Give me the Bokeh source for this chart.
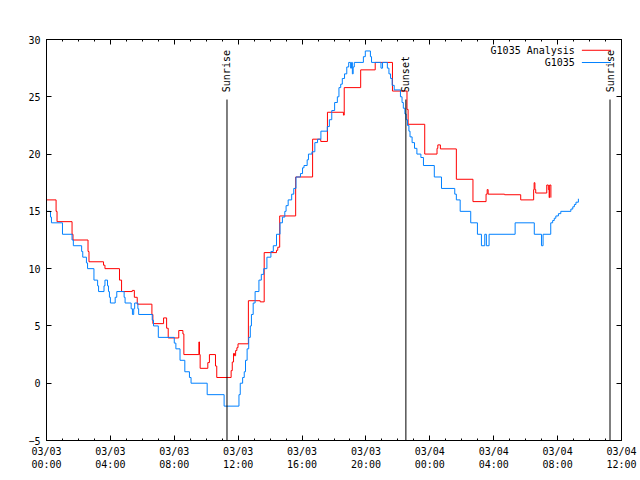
import math
from bokeh.plotting import figure
from bokeh.models import Range1d, FixedTicker, LinearAxis, Label, ColumnDataSource
from bokeh.core.properties import value
from bokeh.embed import file_html
from bokeh.resources import INLINE

# ---- data (hours since 03/03 00:00 UTC, degrees F) ----
obs_hours = [0.0, 0.25, 0.31, 1.0, 1.6, 1.68, 2.2, 2.27, 2.5, 2.57, 2.97, 3.2, 3.26, 3.6, 3.66, 3.82,
             3.88, 3.94, 4.0, 4.3, 4.4, 4.86, 4.92, 5.3, 5.38, 5.46, 5.52, 5.72, 5.77, 6.62, 6.7, 7.0,
             8.0, 8.1, 8.36, 8.66, 8.95, 9.05, 10.06, 11.12, 12.05, 12.13, 12.28, 12.38, 12.46, 12.56,
             12.66, 12.76, 12.83, 12.94, 13.06, 13.3, 13.45, 13.6, 13.8, 14.05, 14.2, 14.4, 14.62,
             14.77, 14.92, 15.0, 15.13, 15.35, 15.48, 15.62, 15.9, 16.03, 16.12, 16.32, 16.4, 16.62,
             16.8, 16.97, 17.18, 17.58, 17.71, 17.86, 18.04, 18.21, 18.31, 18.42, 18.52, 18.66, 18.8,
             18.92, 19.04, 19.1, 19.15, 19.2, 19.27, 19.84, 19.96, 20.28, 20.35, 20.94, 21.04, 21.34,
             21.44, 21.54, 21.64, 21.77, 22.16, 22.26, 22.34, 22.44, 22.52, 22.6, 22.69, 22.76, 22.89,
             23.04, 23.19, 23.44, 23.6, 24.28, 24.73, 25.56, 25.66, 25.9, 26.56, 26.98, 27.23, 27.44,
             27.54, 27.71, 29.34, 30.54, 30.99, 31.09, 31.57, 31.69, 31.79, 31.89, 32.05, 32.2, 32.83,
             32.95, 33.05, 33.15, 33.3]
obs_temp = [15, 14.5, 14, 13, 12.5, 12, 11.5, 11, 10.5, 10, 9, 8.5, 8, 8.5, 9, 8.5,
            8, 7.5, 7, 7.5, 8, 7.5, 7, 6.5, 6, 6.5, 7, 6.5, 6, 5.5, 5, 4,
            3.5, 3, 2, 1, 0.5, 0, -1, -2, -1, 0, 0.5, 1, 2, 3,
            4, 5, 6, 7, 8, 9, 9.5, 10, 11, 11.5, 12, 13, 14,
            14.5, 15, 15.5, 16, 16.5, 17, 18, 18.3, 18.8, 19, 19.5, 20, 20.2,
            21, 21.3, 22, 22.4, 23, 23.8, 24.5, 25, 25.8, 26.1, 26.6, 27, 27.6,
            28, 27.5, 28, 27, 27.6, 28, 28.5, 29, 28.5, 28, 27.5, 28, 27.5,
            27, 26.6, 26, 25.6, 25, 24.5, 24, 23.5, 23, 22.5, 22, 21.5, 21,
            20.5, 20, 19.7, 19, 18, 17, 16.5, 16, 15, 14, 13, 12, 13,
            12, 13, 14, 13, 12, 13, 14, 14.2, 14.4, 14.6, 14.8, 15, 15.2,
            15.4, 15.6, 15.8, 16.1]

ana_hours = [0, 0.6, 0.66, 1.6, 1.66, 2.6, 2.66, 3.57, 3.66, 4.57, 4.7, 5.37, 5.5, 5.68, 6.6, 6.66,
             7.33, 7.52, 7.62, 8.28, 8.54, 8.6, 9.54, 9.58, 9.62, 10.1, 10.2, 10.58, 10.66, 11.56,
             11.63, 11.71, 11.77, 11.84, 11.92, 11.99, 12.64, 13.38, 13.63, 14.4, 14.48, 14.6, 15.6,
             16.66, 17.17, 17.59, 18.59, 18.64, 19.67, 20.58, 21.66, 22.57, 22.64, 23.68, 24.45, 24.5,
             24.66, 25.66, 26.7, 27.52, 27.59, 27.65, 28.68, 29.69, 30.5, 30.53, 30.58, 30.63, 31.32,
             31.42, 31.47, 31.5, 31.58]
ana_temp = [16, 15, 14.1, 13, 12.5, 11.5, 10.6, 10.3, 10, 9, 8, 8.1, 7.5, 6.9, 6, 5.2,
            5.7, 4.8, 3.95, 4.6, 4.3, 2.5, 3.6, 2.5, 1.3, 1.8, 2.5, 1.5, 0.5, 1.1,
            1.85, 2.6, 2.4, 2.85, 3.1, 3.44, 7.2, 7.1, 11.4, 11.6, 11.87, 14.6, 18.0,
            21.3, 21.1, 23.65, 23.4, 25.8, 27.35, 28.0, 25.5, 23.9, 22.6, 20.0, 20.5, 20.8,
            20.45, 17.8, 15.85, 16.5, 16.9, 16.5, 16.45, 16.0, 16.9, 17.5, 16.9, 16.6, 17.3,
            16.9, 16.2, 17.3, 16.2]

sun_hours = [11.3, 22.5, 35.28]
sun_names = ["Sunrise", "Sunset", "Sunrise"]

x_tick_hours = [0, 4, 8, 12, 16, 20, 24, 28, 32, 36]
x_tick_labels = ["03/03\n00:00", "03/03\n04:00", "03/03\n08:00", "03/03\n12:00", "03/03\n16:00",
                 "03/03\n20:00", "03/04\n00:00", "03/04\n04:00", "03/04\n08:00", "03/04\n12:00"]
y_ticks = [-5, 0, 5, 10, 15, 20, 25, 30]

series_names = ["G1035 Analysis", "G1035"]
series_colors = ["#ff0000", "#0080ff"]
title_text = "Temperature for G1035 on 2025-Mar-03 (time in UTC)"
y_title = "degrees F"

FONT = "DejaVu Sans Mono"
FS = "10px"

p = figure(width=640, height=480, x_range=Range1d(0, 36), y_range=Range1d(-5, 30),
           output_backend="svg", toolbar_location=None, x_axis_type=None, y_axis_type=None,
           min_border_left=46, min_border_right=19, min_border_top=39, min_border_bottom=40)
p.outline_line_color = "black"
p.background_fill_color = "white"
p.border_fill_color = "white"

minor_x = list(range(0, 37))


def style_axis(ax, show_labels):
    ax.axis_line_color = "black"
    ax.major_tick_in = 5
    ax.major_tick_out = 0
    ax.minor_tick_in = 2
    ax.minor_tick_out = 0
    ax.major_tick_line_color = "black"
    ax.minor_tick_line_color = "black"
    ax.major_label_text_font = FONT
    ax.major_label_text_font_size = FS
    ax.major_label_text_color = "black"
    ax.major_label_standoff = 5


xb = LinearAxis(ticker=FixedTicker(ticks=x_tick_hours, minor_ticks=minor_x),
                major_label_overrides={float(h): l for h, l in zip(x_tick_hours, x_tick_labels)})
style_axis(xb, True)
p.add_layout(xb, "below")
xt = LinearAxis(ticker=FixedTicker(ticks=x_tick_hours, minor_ticks=minor_x),
                major_label_overrides={float(h): "" for h in x_tick_hours})
style_axis(xt, False)
p.add_layout(xt, "above")

yl = LinearAxis(ticker=FixedTicker(ticks=y_ticks, minor_ticks=[]))
style_axis(yl, True)
yl.major_label_standoff = 6
p.add_layout(yl, "left")
yr = LinearAxis(ticker=FixedTicker(ticks=y_ticks, minor_ticks=[]),
                major_label_overrides={float(v): "" for v in y_ticks})
style_axis(yr, False)
p.add_layout(yr, "right")

# data lines (analysis first, observations on top)
p.step(x=ana_hours, y=ana_temp, mode="after", line_color=series_colors[0], line_width=1)
p.step(x=obs_hours, y=obs_temp, mode="after", line_color=series_colors[1], line_width=1)

# sunrise / sunset markers
sun_src = ColumnDataSource(dict(x=sun_hours, y0=[-5] * 3, y1=[24.76] * 3, ty=[25.4] * 3, name=sun_names))
p.segment(x0="x", y0="y0", x1="x", y1="y1", source=sun_src, line_color="black", line_width=1)
p.text(x="x", y="ty", text="name", source=sun_src, angle=math.pi / 2, text_align="left",
       text_baseline="middle", text_font=value(FONT), text_font_size=FS, text_color="black")

# title and y label
p.add_layout(Label(x=18, y=31.77, text=title_text, text_align="center", text_baseline="middle",
                   text_font=FONT, text_font_size=FS, text_color="black"))
p.add_layout(Label(x=-2.18, y=12.32, text=y_title, angle=math.pi / 2, text_align="center",
                   text_baseline="middle", text_font=FONT, text_font_size=FS, text_color="black"))

# legend (text left of sample line, like gnuplot)
leg_y = [29.06, 27.99]
for name, col, ly in zip(series_names, series_colors, leg_y):
    p.add_layout(Label(x=33.08, y=ly, text=name, text_align="right", text_baseline="middle",
                       text_font=FONT, text_font_size=FS, text_color="black"))
leg_src = ColumnDataSource(dict(x0=[33.52, 33.52], x1=[35.34, 35.34], y=leg_y, c=series_colors))
p.segment(x0="x0", y0="y", x1="x1", y1="y", line_color="c", line_width=1, source=leg_src)

open("out.html", "w").write(file_html(p, INLINE))
